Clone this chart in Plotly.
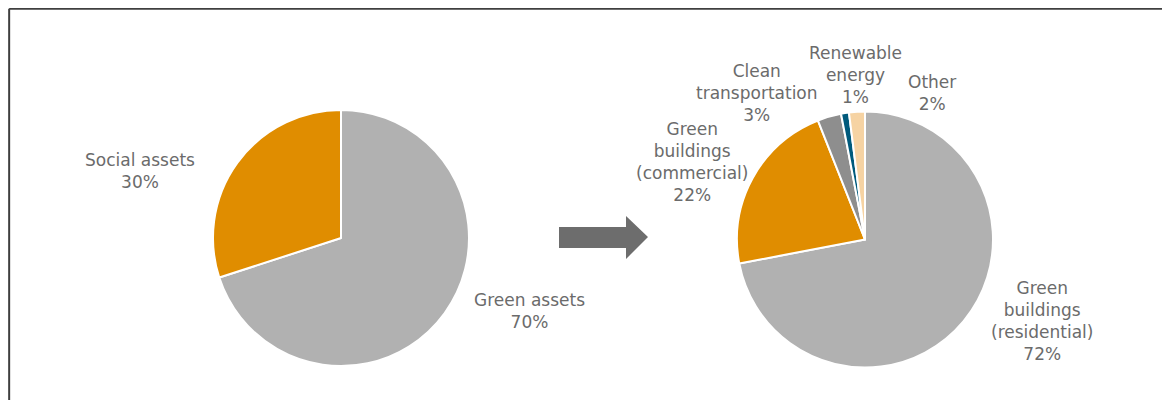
import plotly.graph_objects as go

# page body has an 8px margin, so the figure sits at (8, 8) in the window
OFF = 8
W, H = 1170 - OFF, 400 - OFF

# left pie: asset split
asset_labels = ["Green assets", "Social assets"]
asset_values = [70, 30]
asset_colors = ["#B1B1B1", "#E08D00"]

# right pie: breakdown of green assets
green_labels = ["Green<br>buildings<br>(residential)", "Green<br>buildings<br>(commercial)",
                "Clean<br>transportation", "Renewable<br>energy", "Other"]
green_values = [72, 22, 3, 1, 2]
green_colors = ["#B1B1B1", "#E08D00", "#8E8E8E", "#005A7C", "#F6D3A3"]

# label centres in window pixels (x, y of first line)
asset_pos = [(529, 300), (140, 160)]
green_pos = [(1042, 289), (692, 130), (757, 72), (855, 54), (932, 82)]


def px(x, y):
    return (x - OFF) / W, 1 - (y - OFF) / H


def dom(x0, x1, y0, y1):
    a, b = px(x0, y1)
    c, d = px(x1, y0)
    return dict(x=[a, c], y=[b, d])


fig = go.Figure()
fig.add_trace(go.Pie(labels=asset_labels, values=asset_values, sort=False,
                     direction="clockwise", rotation=0, textinfo="none",
                     marker=dict(colors=asset_colors, line=dict(color="white", width=2)),
                     domain=dom(213, 469, 110, 366),
                     hoverinfo="label+percent"))
fig.add_trace(go.Pie(labels=green_labels, values=green_values, sort=False,
                     direction="clockwise", rotation=0, textinfo="none",
                     marker=dict(colors=green_colors, line=dict(color="white", width=2)),
                     domain=dom(737, 993, 111, 368),
                     hoverinfo="label+percent"))

line_h = 21.3
for labels, values, pos in [(asset_labels, asset_values, asset_pos),
                            (green_labels, green_values, green_pos)]:
    for lab, val, (x, y) in zip(labels, values, pos):
        text = f"{lab}<br>{val}%"
        n = text.count("<br>") + 1
        cy = y + (n - 1) * line_h / 2
        ax, ay = px(x, cy)
        fig.add_annotation(x=ax, y=ay, xref="paper", yref="paper", text=text,
                           showarrow=False, xanchor="center", yanchor="middle",
                           font=dict(family="DejaVu Sans", size=17, color="#6B6B6B"))

# arrow between the pies
arrow = [(559, 227), (626, 227), (626, 216), (648, 237), (626, 259), (626, 248), (559, 248)]
path = "M " + " L ".join(f"{px(x, y)[0]},{px(x, y)[1]}" for x, y in arrow) + " Z"
fig.add_shape(type="path", path=path, xref="paper", yref="paper",
              fillcolor="#6D6D6D", line=dict(width=0))

# frame (top and left edges only), on the figure's own edge
fig.add_shape(type="line", xref="paper", yref="paper", x0=0.001, y0=0.998,
              x1=1, y1=0.998, line=dict(color="#3F3F3F", width=2))
fig.add_shape(type="line", xref="paper", yref="paper", x0=0.001, y0=0.998,
              x1=0.001, y1=0, line=dict(color="#3F3F3F", width=2))

fig.update_layout(width=W, height=H, margin=dict(l=0, r=0, t=0, b=0),
                  showlegend=False, paper_bgcolor="white", plot_bgcolor="white")

fig.write_html("out.html")
